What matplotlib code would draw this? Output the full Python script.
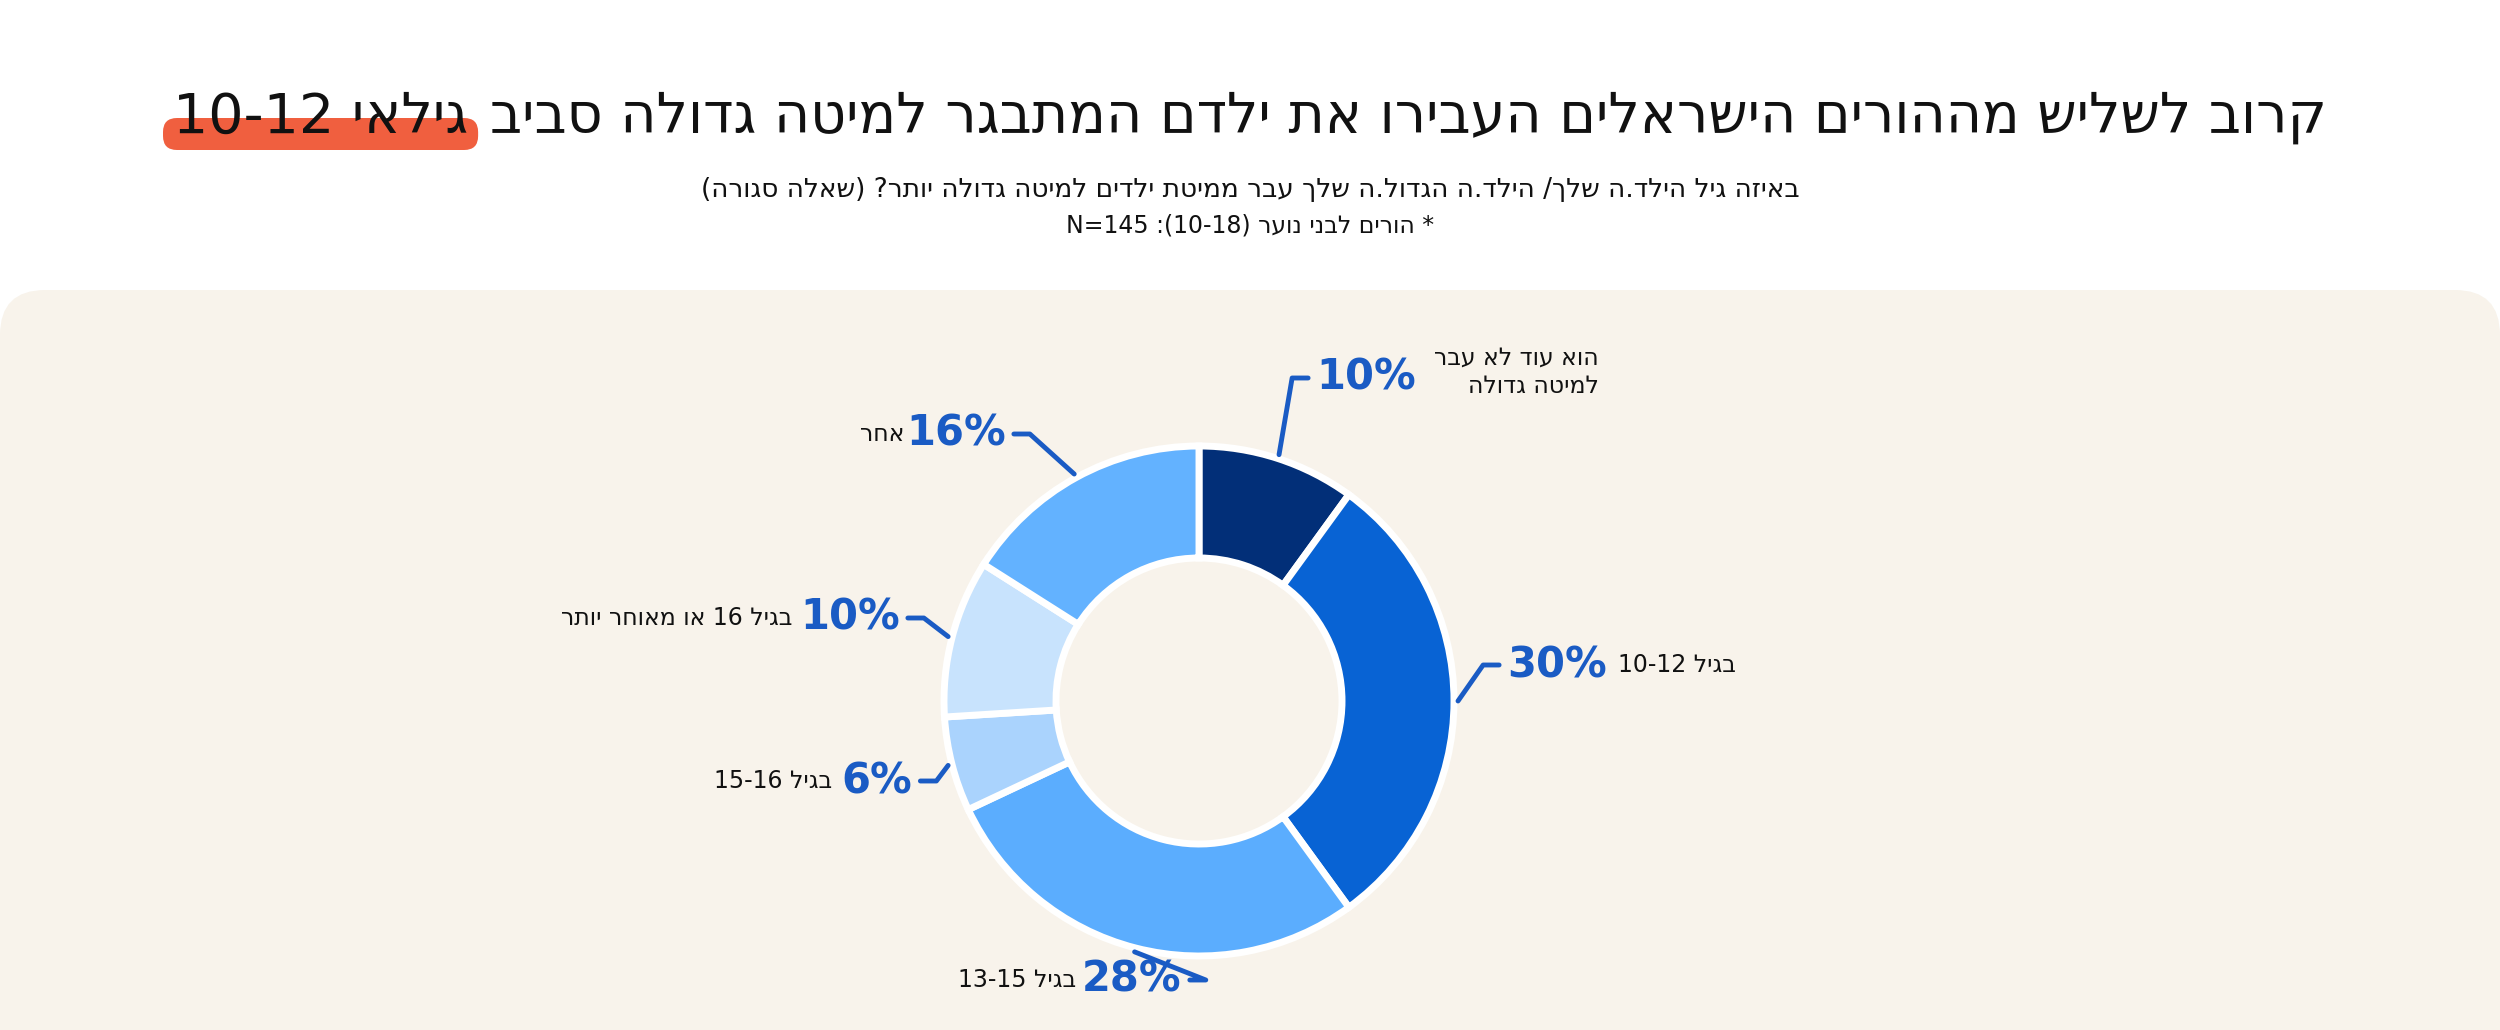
import re
import numpy as np
import matplotlib
matplotlib.use("Agg")
import matplotlib.pyplot as plt
from matplotlib.patches import FancyBboxPatch

plt.rcParams['font.family'] = ['DejaVu Sans']

W, H = 2500, 1030

# ---- data ----
labels = ["הוא עוד לא עבר\nלמיטה גדולה", "בגיל 10-12", "בגיל 13-15", "בגיל 15-16",
          "בגיל 16 או מאוחר יותר", "אחר"]
values = [10, 30, 28, 6, 10, 16]
colors = ["#022F78", "#0863D4", "#5BADFE", "#AAD3FD", "#C8E3FD", "#63B2FF"]
# text anchors (pixel coords, y from top) for pct and category label
pct_pos = [(1366, 378), (1557, 665), (1132, 980), (877, 781), (850, 618), (956, 434)]
lab_pos = [(1599, 372, "right"), (1618, 665, "left"), (1076, 980, "right"),
           (832, 781, "right"), (792, 618, "right"), (904, 434, "right")]

title_main = "קרוב לשליש מההורים הישראלים העבירו את ילדם המתבגר למיטה גדולה סביב"
title_hl = "גילאי 10-12"
subtitle = "באיזה גיל הילד.ה שלך/ הילד.ה הגדול.ה שלך עבר ממיטת ילדים למיטה גדולה יותר? (שאלה סגורה)"
note = "* הורים לבני נוער (10-18): N=145"


def vis(s):
    """Logical Hebrew -> visual order (simple bidi)."""
    out = []
    for line in s.split("\n"):
        r = line[::-1]
        r = re.sub(r"[0-9A-Za-z=\-]+", lambda m: m.group(0)[::-1], r)
        r = r.translate(str.maketrans("()", ")("))
        out.append(r)
    return "\n".join(out)


fig = plt.figure(figsize=(W / 100, H / 100), dpi=100)
fig.patch.set_facecolor("white")
ax = fig.add_axes([0, 0, 1, 1])
ax.set_xlim(0, W)
ax.set_ylim(0, H)
ax.set_aspect("equal")
ax.axis("off")

Y = lambda y: H - y

# panel
ax.add_patch(FancyBboxPatch((0, -100), W, H - 290 + 100, boxstyle="round,pad=0,rounding_size=45",
                            fc="#F8F3EB", ec="none", zorder=0))

# title
r = fig.canvas.get_renderer()
t_main = ax.text(0, Y(118), vis(title_main), fontsize=40, ha="left", va="center", color="#111111")
t_hl = ax.text(0, Y(118), vis(title_hl), fontsize=40, ha="left", va="center", color="#111111", zorder=3)
wm = t_main.get_window_extent(r).width
wh = t_hl.get_window_extent(r).width
gap = 22
x0 = W / 2 - (wm + wh + gap) / 2
t_hl.set_x(x0)
t_main.set_x(x0 + wh + gap)
ax.add_patch(FancyBboxPatch((x0 - 10, Y(150)), wh + 20, 32, boxstyle="round,pad=0,rounding_size=14",
                            fc="#F05F3F", ec="none", zorder=2))

ax.text(W / 2, Y(190), vis(subtitle), fontsize=19, ha="center", va="center", color="#111111")
ax.text(W / 2, Y(225), vis(note), fontsize=17, ha="center", va="center", color="#111111")

# donut
cx, cy, R = 1199, Y(701), 255
wedges, _ = ax.pie(values, colors=colors, startangle=90, counterclock=False, center=(cx, cy),
                   radius=R, wedgeprops=dict(width=R - 143, edgecolor="white", linewidth=5),
                   frame=True)
ax.set_xlim(0, W)
ax.set_ylim(0, H)
ax.axis("off")

blue = "#1A5BC4"
inv = ax.transData.inverted()
for wdg, v, (px, py), (lx, ly, ha), lab in zip(wedges, values, pct_pos, lab_pos, labels):
    t = ax.text(px, Y(py), f"{v}%", fontsize=30, fontweight="bold", color=blue, ha="center",
                va="center")
    ax.text(lx, Y(ly), vis(lab), fontsize=17, ha=ha, va="center", color="#111111",
            multialignment="right", linespacing=1.2)
    bb = t.get_window_extent(r).transformed(inv)
    ang = np.radians((wdg.theta1 + wdg.theta2) / 2)
    x1, y1 = cx + (R + 4) * np.cos(ang), cy + (R + 4) * np.sin(ang)
    right = np.cos(ang) >= 0
    xe = bb.x0 - 8 if right else bb.x1 + 8
    ye = Y(py)
    xm = xe - 16 if right else xe + 16
    ax.plot([x1, xm, xe], [y1, ye, ye], color=blue, lw=3.5, solid_capstyle="round",
            solid_joinstyle="round", zorder=4)

fig.savefig("out.png", dpi=100)
